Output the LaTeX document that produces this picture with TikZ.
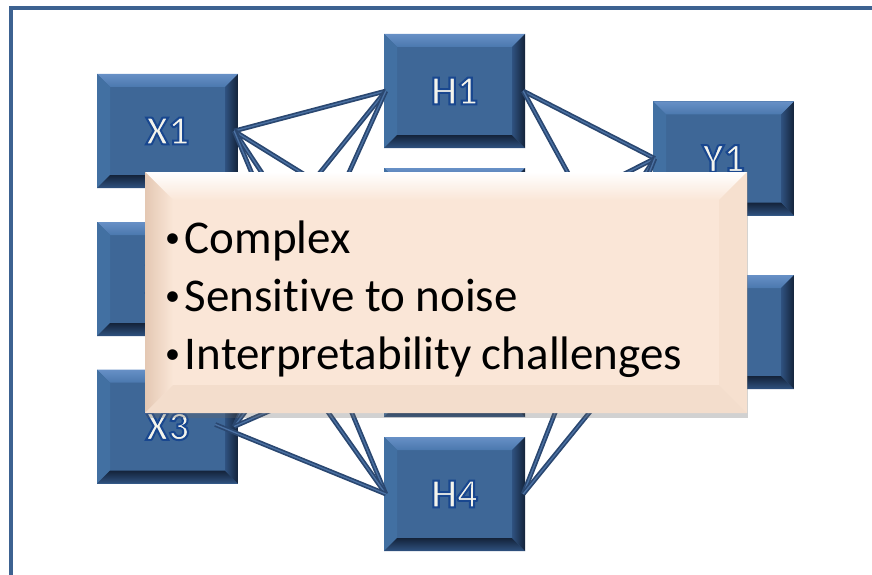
\documentclass[tikz,border=0pt]{standalone}
\usepackage{fontspec}
\setmainfont{Carlito}[Ligatures=NoCommon]
\newfontfamily\labelfont{Carlito Bold}[FakeBold=5]
\usetikzlibrary{shadows}

\definecolor{framebl}{HTML}{3D6291}
\definecolor{unitface}{HTML}{3E6797}
\definecolor{unitlight}{HTML}{6790C6}
\definecolor{unittop}{HTML}{4B78AE}
\definecolor{unitleft}{HTML}{4270A2}
\definecolor{unitright}{HTML}{2F5280}
\definecolor{unitdark}{HTML}{14233A}
\definecolor{labelwhite}{HTML}{F4F4EC}
\definecolor{tubedark}{HTML}{2A4770}
\definecolor{tubelight}{HTML}{4B71A3}
\definecolor{noteface}{HTML}{FAE6D7}
\definecolor{noteleft}{HTML}{E4C8B3}
\definecolor{noteright}{HTML}{F6E0CF}
\definecolor{notebottom}{HTML}{F3DDCC}

% bevel of the blue units
\newcommand\unitbevel{%
  \coordinate (bnw) at (path picture bounding box.north west);
  \coordinate (bne) at (path picture bounding box.north east);
  \coordinate (bsw) at (path picture bounding box.south west);
  \coordinate (bse) at (path picture bounding box.south east);
  \shade[top color=unitlight,bottom color=unittop] (bnw) -- (bne) -- ([shift={(-13,13)}]bne) -- ([shift={(13,13)}]bnw) -- cycle;
  \fill[unitleft] (bnw) -- (bsw) -- ([shift={(13,-13)}]bsw) -- ([shift={(13,13)}]bnw) -- cycle;
  \shade[top color=unitdark,bottom color=unitright] (bsw) -- (bse) -- ([shift={(-13,-13)}]bse) -- ([shift={(13,-13)}]bsw) -- cycle;
  \shade[left color=unitright,right color=unitdark] (bne) -- (bse) -- ([shift={(-13,-13)}]bse) -- ([shift={(-13,13)}]bne) -- cycle;
}

% bevel of the note
\newcommand\notebevel{%
  \coordinate (cnw) at (path picture bounding box.north west);
  \coordinate (cne) at (path picture bounding box.north east);
  \coordinate (csw) at (path picture bounding box.south west);
  \coordinate (cse) at (path picture bounding box.south east);
  \shade[top color=white,bottom color=noteface] (cnw) -- (cne) -- ([shift={(-28,28)}]cne) -- ([shift={(28,28)}]cnw) -- cycle;
  \shade[left color=noteleft,right color=noteface] (cnw) -- (csw) -- ([shift={(28,-28)}]csw) -- ([shift={(28,28)}]cnw) -- cycle;
  \fill[notebottom] (csw) -- (cse) -- ([shift={(-28,-28)}]cse) -- ([shift={(28,-28)}]csw) -- cycle;
  \fill[noteright] (cne) -- (cse) -- ([shift={(-28,-28)}]cse) -- ([shift={(-28,28)}]cne) -- cycle;
}

% white letters with a blue outline (stroke colour set after the fill colour)
\newcommand\glowlabel[1]{%
  \special{pdf:literal direct 0.10 0.28 0.56 RG}#1}
\newcommand\notebullet{\raisebox{6pt}{\fontsize{30}{30}\selectfont •}\hspace{5pt}}

\tikzset{
  frameline/.style={draw=framebl,line width=4.5pt},
  unit/.style={fill=unitface,draw=none,minimum width=141pt,minimum height=114pt,inner sep=0pt,
    text=labelwhite,font=\labelfont\fontsize{41}{41}\selectfont,path picture={\unitbevel}},
  tube/.style={draw=tubedark,double=tubelight,double distance=1.3pt,line width=1.7pt},
  note/.style={fill=noteface,draw=none,minimum width=602pt,minimum height=241pt,inner sep=0pt,
    path picture={\notebevel},
    drop shadow={shadow xshift=1pt,shadow yshift=-5pt,opacity=0.3,fill=black!60}},
  notetext/.style={align=left,inner sep=0pt,text=black,font=\fontsize{47}{58}\selectfont},
}

\begin{document}
\begin{tikzpicture}[x=1pt,y=-1pt]
\useasboundingbox (0,0) rectangle (872,575);
\draw[frameline] (872,8) -- (11,8) -- (11,577);

% inputs, hidden units, outputs
\node[unit] (X1) at (167.5,131) {\glowlabel{X1}};
\node[unit] (X2) at (167.5,279) {\glowlabel{X2}};
\node[unit] (X3) at (167.5,426.5) {\glowlabel{X3}};
\node[unit] (H1) at (454.5,91) {\glowlabel{H1}};
\node[unit] (H2) at (454.5,225) {\glowlabel{H2}};
\node[unit] (H3) at (454.5,360) {\glowlabel{H3}};
\node[unit] (H4) at (454.5,494) {\glowlabel{H4}};
\node[unit] (Y1) at (723.5,158.5) {\glowlabel{Y1}};
\node[unit] (Y2) at (723.5,332) {\glowlabel{Y2}};

% connections
\foreach \x in {X1,X2}
  \foreach \h in {H1,H2,H3,H4}
    \draw[tube] ([xshift=-4pt]\x.east) -- ([xshift=2pt]\h.west);
\foreach \h in {H1,H2,H3}
  \draw[tube] ([xshift=-4pt]X3.east) -- ([xshift=2pt]\h.west);
\draw[tube] ([xshift=-23pt,yshift=2pt]X3.east) -- ([xshift=2pt]H4.west);
\foreach \h in {H1,H2,H3,H4}
  \foreach \y in {Y1,Y2}
    \draw[tube] ([xshift=-2pt]\h.east) -- ([xshift=2pt]\y.west);

% note on top
\node[note] (callout) at (446,292.5) {};
\node[notetext,anchor=west] (notes) at ([xshift=20pt,yshift=-7pt]callout.west)
  {\notebullet Complex\\\notebullet Sensitive to noise\\\notebullet Interpretability challenges};
\end{tikzpicture}
\end{document}
